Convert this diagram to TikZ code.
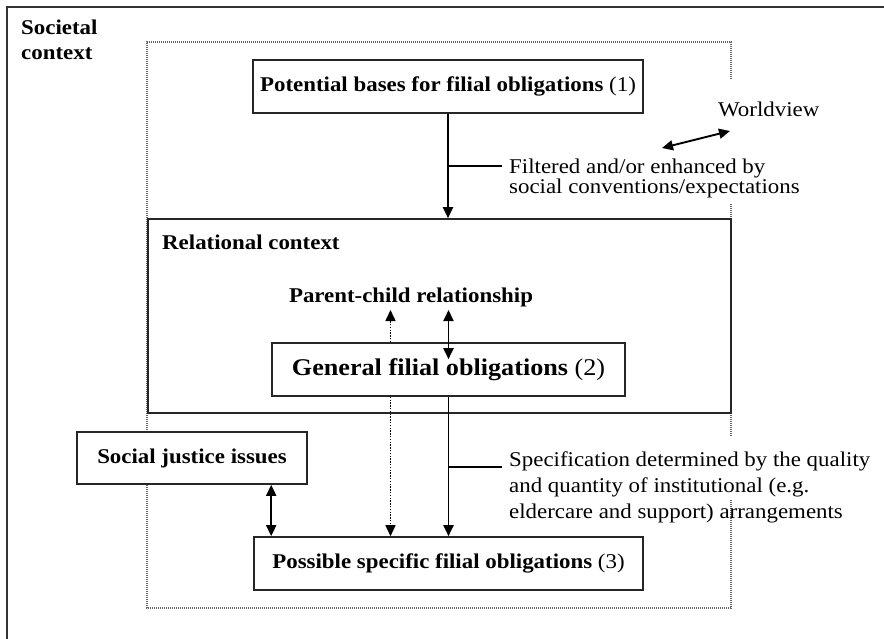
\documentclass[tikz,border=0pt]{standalone}
\usepackage{fontspec}
\setmainfont{Liberation Serif}[FakeStretch=1.09]
\usetikzlibrary{arrows.meta}
\newcommand\rgfont{\fontsize{21}{20}\selectfont}
\newcommand\bigfont{\fontsize{24}{26}\selectfont}
\begin{document}
\begin{tikzpicture}[x=1pt,y=-1pt,
  box/.style={draw=black!85, line width=1.6pt, fill=white, inner sep=0pt, align=center, font=\rgfont},
  lbl/.style={inner sep=0pt, font=\rgfont, align=left},
  arr/.style={line width=1.9pt, -{Triangle[length=11pt,width=10pt]}},
  darr/.style={line width=1.9pt, {Triangle[length=11pt,width=10pt]}-{Triangle[length=11pt,width=10pt]}},
  dotarr/.style={line width=1.5pt, dash pattern=on 1.4pt off 1.4pt, -{Triangle[length=11pt,width=10pt]}},
  dotbox/.style={draw=black!60, line width=1.2pt, dash pattern=on 1pt off 1pt},
  tick/.style={line width=1.5pt}
]
\useasboundingbox (0,0) rectangle (884,639);
% outer societal frame (cropped at right and bottom)
\draw[line width=1.9pt, black!80] (7,650) -- (7,7) -- (895,7);
\node[lbl, anchor=north west, font=\fontsize{21}{25}\selectfont\bfseries] (soc) at (21,20) {Societal\\context};
% dotted frame
\draw[dotbox] (731,79) -- (731,42) -- (147,42) -- (147,608) -- (731,608) -- (731,500)
  (731,436) -- (731,413) (731,219) -- (731,203);
% boxes
\node[box, minimum width=390pt, minimum height=53pt] (b1) at (448,86.5) {\textbf{Potential bases for filial obligations} (1)};
\node[box, minimum width=583pt, minimum height=194pt] (rel) at (439.5,316) {};
\node[lbl, anchor=west, font=\rgfont\bfseries] (rellbl) at (162,242) {Relational context};
\node[lbl, font=\rgfont\bfseries] (pc) at (411,297) {Parent-child relationship};
\node[box, minimum width=353pt, minimum height=53pt, font=\bigfont] (gen) at (448.5,369.5) {\textbf{General filial obligations} (2)};
\node[box, minimum width=230pt, minimum height=52pt] (sj) at (192,458) {\textbf{Social justice issues}};
\node[box, minimum width=389pt, minimum height=53pt] (poss) at (448.5,563.5) {\textbf{Possible specific filial obligations} (3)};
% side texts
\node[lbl, anchor=west] (wv) at (718,109) {Worldview};
\node[lbl, anchor=west] (filt) at (509,178) {Filtered and/or enhanced by\\social conventions/expectations};
\node[lbl, anchor=west, font=\fontsize{21}{26}\selectfont] (spec) at (509,487) {Specification determined by the quality\\and quantity of institutional (e.g.\\eldercare and support) arrangements};
% coordinates
\coordinate (t1a) at (448,166);
\coordinate (t1b) at (502,166);
\coordinate (t2a) at (448.5,467);
\coordinate (t2b) at (502,467);
\coordinate (wva) at (662,148);
\coordinate (wvb) at (730,131);
% connectors
\draw[arr] (b1.south) -- (b1.south |- rel.north);
\draw[tick] (t1a) -- (t1b);
\draw[darr] (wva) -- (wvb);
\draw[darr] (gen.north |- 0,310) -- ([yshift=-17pt]gen.north);
\draw[dotarr] ([xshift=-58pt]gen.north) -- ([xshift=-58pt]gen.north |- 0,310);
\draw[dotarr] ([xshift=-58pt]gen.south) -- ([xshift=-58pt]gen.south |- poss.north);
\draw[arr] (gen.south) -- (poss.north);
\draw[tick] (t2a) -- (t2b);
\draw[darr] (gen.west |- sj.south) -- (gen.west |- poss.north);
\end{tikzpicture}
\end{document}
